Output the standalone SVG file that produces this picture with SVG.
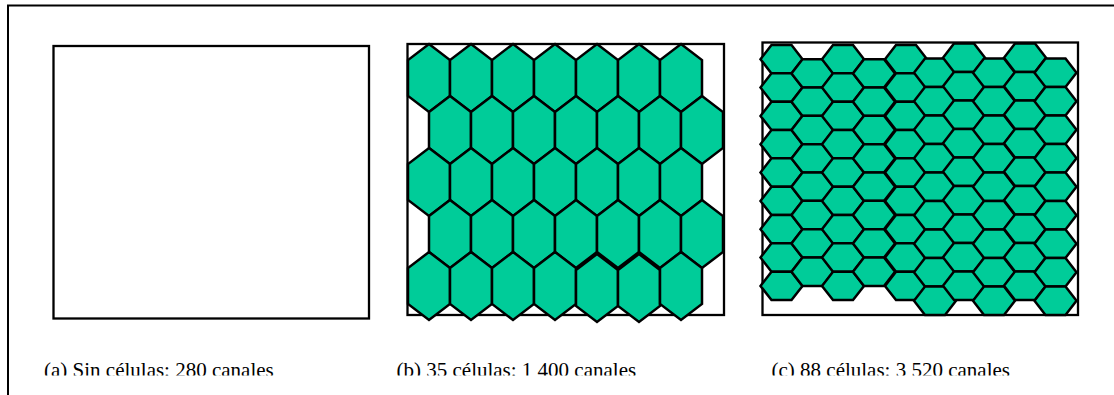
<svg xmlns="http://www.w3.org/2000/svg" width="1114" height="395" viewBox="0 0 1114 395">
  <style>
    .frame { fill: none; stroke: #000; stroke-width: 2; }
    .box { fill: #fff; stroke: #000; stroke-width: 2.3; }
    .cell { fill: #00CC99; stroke: #000; stroke-width: 2.5; stroke-linejoin: miter; }
    .label { font-family: "Liberation Serif", "Times New Roman", serif; font-size: 21px; fill: #000; }
  </style>
  <defs>
    <!-- tall cell, anchored at its top vertex -->
    <polygon id="hv" class="cell" points="0,0 21,16 21,52 0,68 -21,52 -21,16"/>
    <!-- wide cell, anchored at the middle of its top edge -->
    <polygon id="hw" class="cell" points="-21,14.2 -10,0 10,0 21,14.2 10,28.4 -10,28.4"/>
    <clipPath id="labelClip">
      <rect x="0" y="0" width="1114" height="375.5"/>
    </clipPath>
  </defs>

  <!-- page frame -->
  <path class="frame" d="M8,395 V5.5 H1114"/>

  <!-- (a) no cells -->
  <g id="panel-a">
    <rect class="box" x="53.5" y="46" width="315.5" height="272.5"/>
    <text class="label" x="44" y="376.5" clip-path="url(#labelClip)">(a) Sin células: 280 canales</text>
  </g>

  <!-- (b) 35 cells, 5 rows of 7 -->
  <g id="panel-b">
    <rect class="box" x="407.5" y="44" width="316.5" height="271"/>
    <g id="cells-b">
      <use href="#hv" x="429" y="44"/><use href="#hv" x="471" y="44"/><use href="#hv" x="513" y="44"/><use href="#hv" x="555" y="44"/><use href="#hv" x="597" y="44"/><use href="#hv" x="639" y="44"/><use href="#hv" x="681" y="44"/>
      <use href="#hv" x="450" y="96"/><use href="#hv" x="492" y="96"/><use href="#hv" x="534" y="96"/><use href="#hv" x="576" y="96"/><use href="#hv" x="618" y="96"/><use href="#hv" x="660" y="96"/><use href="#hv" x="702" y="96"/>
      <use href="#hv" x="429" y="148"/><use href="#hv" x="471" y="148"/><use href="#hv" x="513" y="148"/><use href="#hv" x="555" y="148"/><use href="#hv" x="597" y="148"/><use href="#hv" x="639" y="148"/><use href="#hv" x="681" y="148"/>
      <use href="#hv" x="450" y="200"/><use href="#hv" x="492" y="200"/><use href="#hv" x="534" y="200"/><use href="#hv" x="576" y="200"/><use href="#hv" x="618" y="200"/><use href="#hv" x="660" y="200"/><use href="#hv" x="702" y="200"/>
      <use href="#hv" x="429" y="252"/><use href="#hv" x="471" y="252"/><use href="#hv" x="513" y="252"/><use href="#hv" x="555" y="252"/><use href="#hv" x="597" y="254"/><use href="#hv" x="639" y="254"/><use href="#hv" x="681" y="252"/>
    </g>
    <text class="label" x="396.5" y="376.5" clip-path="url(#labelClip)">(b) 35 células: 1 400 canales</text>
  </g>

  <!-- (c) 88 cells, 10 columns -->
  <g id="panel-c">
    <rect class="box" x="762.5" y="42.5" width="315.5" height="272.5"/>
    <g id="cells-c">
      <!-- column 1 -->
      <use href="#hw" x="781.5" y="45"/><use href="#hw" x="781.5" y="73.3"/><use href="#hw" x="781.5" y="101.7"/><use href="#hw" x="781.5" y="130"/><use href="#hw" x="781.5" y="158.3"/><use href="#hw" x="781.5" y="186.7"/><use href="#hw" x="781.5" y="215"/><use href="#hw" x="781.5" y="243.3"/><use href="#hw" x="781.5" y="271.7"/>
      <!-- column 2 -->
      <use href="#hw" x="812.5" y="59.2"/><use href="#hw" x="812.5" y="87.5"/><use href="#hw" x="812.5" y="115.8"/><use href="#hw" x="812.5" y="144.2"/><use href="#hw" x="812.5" y="172.5"/><use href="#hw" x="812.5" y="200.8"/><use href="#hw" x="812.5" y="229.2"/><use href="#hw" x="812.5" y="257.5"/>
      <!-- column 3 -->
      <use href="#hw" x="843" y="45"/><use href="#hw" x="843" y="73.3"/><use href="#hw" x="843" y="101.7"/><use href="#hw" x="843" y="130"/><use href="#hw" x="843" y="158.3"/><use href="#hw" x="843" y="186.7"/><use href="#hw" x="843" y="215"/><use href="#hw" x="843" y="243.3"/><use href="#hw" x="843" y="271.7"/>
      <!-- column 4 -->
      <use href="#hw" x="874" y="59.2"/><use href="#hw" x="874" y="87.5"/><use href="#hw" x="874" y="115.8"/><use href="#hw" x="874" y="144.2"/><use href="#hw" x="874" y="172.5"/><use href="#hw" x="874" y="200.8"/><use href="#hw" x="874" y="229.2"/><use href="#hw" x="874" y="257.5"/>
      <!-- column 5 -->
      <use href="#hw" x="906" y="45"/><use href="#hw" x="906" y="73.3"/><use href="#hw" x="906" y="101.7"/><use href="#hw" x="906" y="130"/><use href="#hw" x="906" y="158.3"/><use href="#hw" x="906" y="186.7"/><use href="#hw" x="906" y="215"/><use href="#hw" x="906" y="243.3"/><use href="#hw" x="906" y="271.7"/>
      <!-- column 6 -->
      <use href="#hw" x="935" y="58.5"/><use href="#hw" x="935" y="87"/><use href="#hw" x="935" y="115.5"/><use href="#hw" x="935" y="144"/><use href="#hw" x="935" y="172.5"/><use href="#hw" x="935" y="201"/><use href="#hw" x="935" y="229.5"/><use href="#hw" x="935" y="258"/><use href="#hw" x="935" y="286.5"/>
      <!-- column 7 -->
      <use href="#hw" x="964" y="43.5"/><use href="#hw" x="964" y="72"/><use href="#hw" x="964" y="100.5"/><use href="#hw" x="964" y="129"/><use href="#hw" x="964" y="157.5"/><use href="#hw" x="964" y="186"/><use href="#hw" x="964" y="214.5"/><use href="#hw" x="964" y="243"/><use href="#hw" x="964" y="271.5"/>
      <!-- column 8 -->
      <use href="#hw" x="994" y="58.5"/><use href="#hw" x="994" y="87"/><use href="#hw" x="994" y="115.5"/><use href="#hw" x="994" y="144"/><use href="#hw" x="994" y="172.5"/><use href="#hw" x="994" y="201"/><use href="#hw" x="994" y="229.5"/><use href="#hw" x="994" y="258"/><use href="#hw" x="994" y="286.5"/>
      <!-- column 9 -->
      <use href="#hw" x="1025" y="43.5"/><use href="#hw" x="1025" y="72"/><use href="#hw" x="1025" y="100.5"/><use href="#hw" x="1025" y="129"/><use href="#hw" x="1025" y="157.5"/><use href="#hw" x="1025" y="186"/><use href="#hw" x="1025" y="214.5"/><use href="#hw" x="1025" y="243"/><use href="#hw" x="1025" y="271.5"/>
      <!-- column 10 -->
      <use href="#hw" x="1055.5" y="58.5"/><use href="#hw" x="1055.5" y="87"/><use href="#hw" x="1055.5" y="115.5"/><use href="#hw" x="1055.5" y="144"/><use href="#hw" x="1055.5" y="172.5"/><use href="#hw" x="1055.5" y="201"/><use href="#hw" x="1055.5" y="229.5"/><use href="#hw" x="1055.5" y="258"/><use href="#hw" x="1055.5" y="286.5"/>
    </g>
    <text class="label" x="771.5" y="376.5" clip-path="url(#labelClip)">(c) 88 células: 3 520 canales</text>
  </g>
</svg>
